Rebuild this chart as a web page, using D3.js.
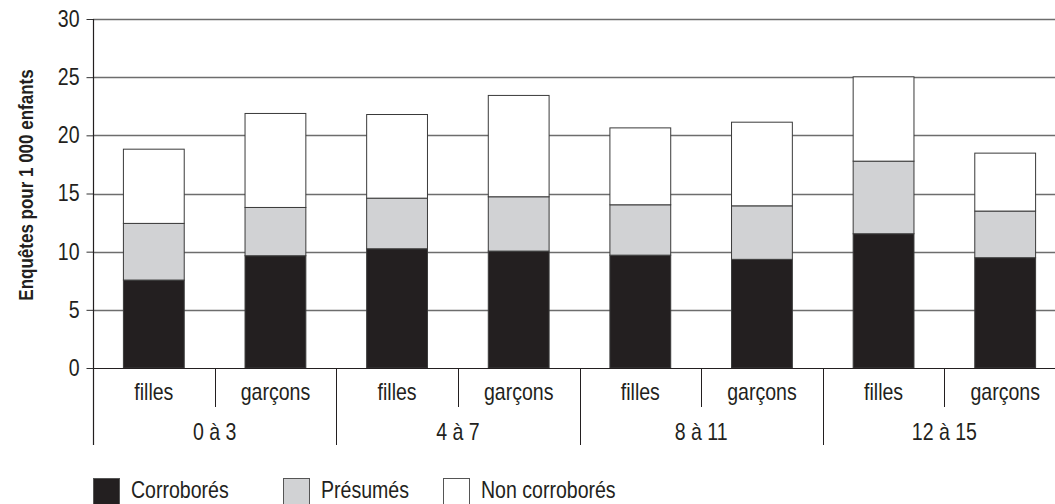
<!DOCTYPE html>
<html>
<head>
<meta charset="utf-8">
<script src="https://cdn.jsdelivr.net/npm/d3@7"></script>
<style>
  html, body { margin: 0; padding: 0; background: #fff; overflow: hidden; }
  svg { display: block; font-family: "Liberation Sans", Arial, sans-serif; }
</style>
</head>
<body>
<svg id="chart" width="1055" height="504"></svg>
<script>
// ---- data ----
const ageGroups = ["0 à 3", "4 à 7", "8 à 11", "12 à 15"];
const sexes = ["filles", "garçons"];
const seriesNames = ["Corroborés", "Présumés", "Non corroborés"];
const corrobores = [7.56, 9.65, 10.25, 10.05, 9.7, 9.34, 11.54, 9.48];
const presumes = [4.87, 4.15, 4.35, 4.67, 4.33, 4.6, 6.24, 4.01];
const nonCorrobores = [6.38, 8.08, 7.19, 8.71, 6.61, 7.19, 7.25, 4.98];
const yTicks = [0, 5, 10, 15, 20, 25, 30];
const yTitle = "Enquêtes pour 1 000 enfants";

const colors = ["#231f20", "#d1d2d4", "#ffffff"];
const SX = 0.85; // horizontal condensation to mimic a condensed face
const FS = 23;

const rows = [];
ageGroups.forEach((g, gi) => sexes.forEach((s, si) => {
  const i = gi * sexes.length + si;
  rows.push({ key: g + "|" + s, group: g, sex: s,
    "Corroborés": corrobores[i], "Présumés": presumes[i], "Non corroborés": nonCorrobores[i] });
}));

const svg = d3.select("#chart");
const margin = { left: 93, top: 19 };
const plotW = 973;
const y0 = 368;

const x = d3.scaleBand().domain(rows.map(r => r.key)).range([margin.left, margin.left + plotW]).paddingInner(0.5).paddingOuter(0.25);
const xBand = d3.scaleBand().domain(rows.map(r => r.key)).range([margin.left, margin.left + plotW]);
const xGroup = d3.scaleBand().domain(ageGroups).range([margin.left, margin.left + plotW]);
const y = d3.scaleLinear().domain([0, 30]).range([y0, margin.top]);

function label(g, tx, ty, txt, anchor, opts = {}) {
  return g.append("text")
    .attr("transform", `translate(${tx},${ty})${opts.rotate ? " rotate(" + opts.rotate + ")" : ""} scale(${SX},1)`)
    .attr("text-anchor", anchor || "middle")
    .attr("font-size", opts.size || FS)
    .attr("font-weight", opts.weight || "normal")
    .attr("fill", "#231f20")
    .text(txt);
}

// gridlines
svg.append("g").selectAll("line").data(yTicks.filter(t => t > 0)).join("line")
  .attr("x1", margin.left).attr("x2", margin.left + plotW)
  .attr("y1", d => Math.round(y(d)) + 0.5).attr("y2", d => Math.round(y(d)) + 0.5)
  .attr("stroke", "#6d6d6d").attr("stroke-width", 1.3);

// bars
const stack = d3.stack().keys(seriesNames)(rows);
svg.append("g").selectAll("g").data(stack).join("g")
  .attr("fill", (d, i) => colors[i])
  .selectAll("rect").data(d => d).join("rect")
  .attr("x", d => x(d.data.key))
  .attr("width", x.bandwidth())
  .attr("y", d => y(d[1]))
  .attr("height", d => y(d[0]) - y(d[1]))
  .attr("stroke", "#3a3a3a").attr("stroke-width", 1);

// y axis
const yAxis = svg.append("g").attr("transform", `translate(${margin.left + 0.5},0)`)
  .call(d3.axisLeft(y).tickValues(yTicks).tickSize(7).tickPadding(7).tickFormat(d3.format("d")));
yAxis.select(".domain").remove();
yAxis.selectAll("line").attr("stroke", "#333");
yAxis.selectAll("text")
  .attr("font-size", FS).attr("fill", "#231f20")
  .attr("x", -14 / SX).attr("transform", `scale(${SX},1)`);
svg.append("line").attr("x1", margin.left + 0.5).attr("x2", margin.left + 0.5)
  .attr("y1", margin.top).attr("y2", 445).attr("stroke", "#231f20").attr("stroke-width", 1.2);

// x baseline
svg.append("line").attr("x1", margin.left).attr("x2", margin.left + plotW)
  .attr("y1", y0 + 0.5).attr("y2", y0 + 0.5).attr("stroke", "#231f20").attr("stroke-width", 1.2);

// sex separators (short)
svg.append("g").selectAll("line").data(ageGroups).join("line")
  .attr("x1", d => Math.round(xGroup(d) + xGroup.bandwidth() / 2) + 0.5)
  .attr("x2", d => Math.round(xGroup(d) + xGroup.bandwidth() / 2) + 0.5)
  .attr("y1", y0).attr("y2", 407).attr("stroke", "#231f20");
// group separators (long)
svg.append("g").selectAll("line").data(ageGroups.slice(1)).join("line")
  .attr("x1", d => Math.round(xGroup(d)) + 0.5).attr("x2", d => Math.round(xGroup(d)) + 0.5)
  .attr("y1", y0).attr("y2", 445).attr("stroke", "#231f20");

// sex labels
const sexG = svg.append("g");
rows.forEach(r => label(sexG, xBand(r.key) + xBand.bandwidth() / 2, 400, r.sex));
// group labels
const grpG = svg.append("g");
ageGroups.forEach(g => label(grpG, xGroup(g) + xGroup.bandwidth() / 2, 440, g));

// y title
label(svg, 33, 185, yTitle, "middle", { rotate: -90, size: 20, weight: "bold" });

// legend
const legendX = [93, 283, 443];
const lg = svg.append("g");
seriesNames.forEach((s, i) => {
  lg.append("rect").attr("x", legendX[i] + 0.5).attr("y", 478.5).attr("width", 26).attr("height", 26)
    .attr("fill", colors[i]).attr("stroke", "#555");
  label(lg, legendX[i] + 38, 498, s, "start");
});
</script>
</body>
</html>
